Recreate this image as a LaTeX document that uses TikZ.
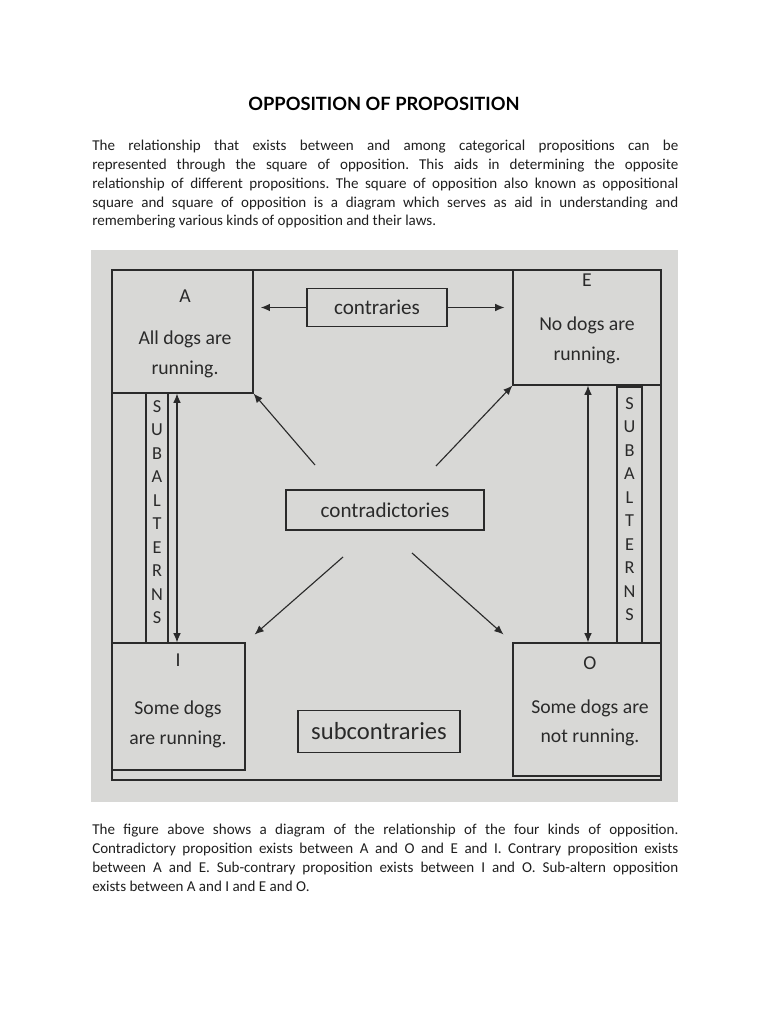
\documentclass[tikz,border=0pt]{standalone}
\usepackage{fontspec}
\setmainfont{Carlito}
\newfontfamily\diagfont{Carlito}
\newfontfamily\headfont{Lato}
\usetikzlibrary{arrows.meta,positioning,fit,calc}
\definecolor{photogray}{HTML}{D8D8D6}
\definecolor{ink}{HTML}{2A2A2A}
\frenchspacing

\begin{document}
\begin{tikzpicture}[x=0.025cm, y=-0.025cm,
    every node/.style={inner sep=0pt},
    frame/.style={draw=ink, line width=0.8pt},
    propbox/.style={frame, fit={#1}},
    proptext/.style={anchor=north, align=center, text=ink, font=\diagfont\fontsize{14}{21.3}\selectfont},
    relbox/.style={frame, text=ink, font=\diagfont\fontsize{15}{18}\selectfont},
    subbox/.style={frame, fit={#1}, align=center, text=ink, font=\diagfont\fontsize{13}{16.7}\selectfont},
    arr/.style={draw=ink, line width=0.8pt, -{Latex[length=2.3mm,width=1.9mm]}},
    dblarr/.style={draw=ink, line width=0.8pt, {Latex[length=2.3mm,width=1.9mm]}-{Latex[length=2.3mm,width=1.9mm]}},
    para/.style={anchor=north west, text width=14.65cm, align=justify, text=black!88, font=\fontsize{10.7}{13.47}\selectfont}]

  \useasboundingbox[fill=white] (0,0) rectangle (768,1024);

  % heading and opening text
  \node[font=\headfont\bfseries\fontsize{13}{16}\selectfont] (title) at (384,104) {OPPOSITION OF PROPOSITION};
  \node[para] (intro) at (92,139.5) {The relationship that exists between and among categorical propositions can be\linebreak
    represented through the square of opposition. This aids in determining the opposite\linebreak
    relationship of different propositions. The square of opposition also known as oppositional\linebreak
    square and square of opposition is a diagram which serves as aid in understanding and\linebreak
    remembering various kinds of opposition and their laws.};

  % photo of the square
  \fill[photogray] (91,250) rectangle (678,802);
  \node[frame, fit={(112,270) (661,780)}] (outer) {};

  % A
  \node[proptext] (Atext) at (185,290) {A\\[0.3cm]All dogs are\\running.};
  \node[propbox={(112,270) (253,393)}] (A) {};
  % E
  \node[proptext] (Etext) at (587,274) {E\\[0.35cm]No dogs are\\running.};
  \node[propbox={(513,270) (661,385)}] (E) {};
  % I
  \node[proptext] (Itext) at (178,654) {I\\[0.45cm]Some dogs\\are running.};
  \node[propbox={(112,643) (245,770)}] (I) {};
  % O
  \node[proptext] (Otext) at (590,656) {O\\[0.35cm]Some dogs are\\not running.};
  \node[propbox={(513,643) (661,776)}] (O) {};

  % relations
  \node[relbox, minimum width=3.5cm, minimum height=0.95cm] (contr) at (377,307.5) {contraries};
  \node[relbox, minimum width=4.95cm, minimum height=1cm] (contrad) at (385,510) {contradictories};
  \node[relbox, minimum width=4.05cm, minimum height=1.07cm, font=\diagfont\fontsize{17.5}{20}\selectfont] (subcontr) at (379,731.5) {subcontraries};

  \draw[arr, shorten >=1.8mm] (contr.west) -- (contr.west -| A.east);
  \draw[arr, shorten >=2mm] (contr.east) -- (contr.east -| E.west);

  \coordinate (toA) at (315,465);
  \coordinate (toE) at (436,466);
  \coordinate (toI) at (343,557);
  \coordinate (toO) at (412,553);
  \draw[arr] (toA) -- (A.south east);
  \draw[arr] (toE) -- (E.south west);
  \draw[arr, shorten >=3mm] (toI) -- (I.north east);
  \draw[arr, shorten >=3mm] (toO) -- (O.north west);

  % subalterns
  \node[subbox={(146,393) (168,643)}] (subL) {S\\U\\B\\A\\L\\T\\E\\R\\N\\S};
  \node[subbox={(617,387) (642,643)}] (subR) {S\\U\\B\\A\\L\\T\\E\\R\\N\\S};
  \coordinate (lineAI) at (177,0);
  \coordinate (lineEO) at (588,0);
  \draw[dblarr] (lineAI |- A.south) -- (lineAI |- I.north);
  \draw[dblarr] (lineEO |- E.south) -- (lineEO |- O.north);

  % closing text
  \node[para] (outro) at (92,823.5) {The figure above shows a diagram of the relationship of the four kinds of opposition.\linebreak
    Contradictory proposition exists between A and O and E and I. Contrary proposition exists\linebreak
    between A and E. Sub-contrary proposition exists between I and O. Sub-altern opposition\linebreak
    exists between A and I and E and O.};
\end{tikzpicture}
\end{document}
